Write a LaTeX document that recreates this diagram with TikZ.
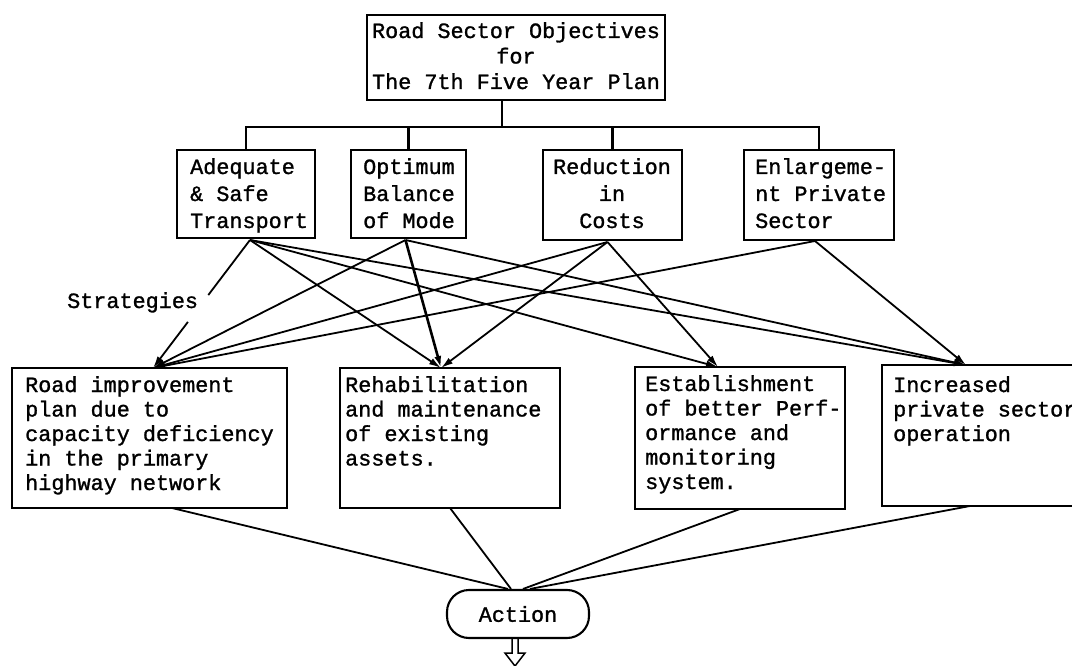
\documentclass[tikz,border=0pt]{standalone}
\usepackage{fontspec}
\newfontfamily\tw[FakeBold=1.2]{Liberation Mono}
\usetikzlibrary{calc,arrows.meta}
\begin{document}
\begin{tikzpicture}[x=1pt,y=-1pt,
 box/.style={draw, line width=2.1pt, inner sep=0pt, outer sep=0pt, anchor=north west},
 txt/.style={inner sep=0pt, anchor=base west, font=\tw\fontsize{21.8}{24.5}\selectfont},
 txtB/.style={inner sep=0pt, anchor=base west, font=\tw\fontsize{21.8}{27}\selectfont},
 link/.style={line width=1.8pt},
 arr/.style={line width=1.8pt, -{Latex[length=12pt,width=7pt]}},
]
\useasboundingbox (0,0) rectangle (1072,666);
\clip (0,0) rectangle (1072,666);
\fill[white] (0,0) rectangle (1072,666);

% boxes
\node[box, minimum width=298pt, minimum height=85pt] (top) at (367,15) {};
\node[box, minimum width=138pt, minimum height=88pt] (adq) at (177,150) {};
\node[box, minimum width=115pt, minimum height=88pt] (opt) at (351,150) {};
\node[box, minimum width=139pt, minimum height=90pt] (red) at (543,150) {};
\node[box, minimum width=150pt, minimum height=90pt] (enl) at (744,150) {};
\node[box, minimum width=275pt, minimum height=140pt] (b1) at (12,368) {};
\node[box, minimum width=220pt, minimum height=140pt] (b2) at (340,368) {};
\node[box, minimum width=210pt, minimum height=142pt] (b3) at (635,367) {};
\node[box, minimum width=240pt, minimum height=141pt] (b4) at (882,365) {};
\node[draw, line width=2.1pt, rounded corners=22pt, minimum width=142pt, minimum height=48pt,
      inner sep=0pt, font=\tw\fontsize{21.8}{24.5}\selectfont] (act) at (518,614) {Action};

% texts
\node[inner sep=0pt, anchor=base, font=\tw\fontsize{21.8}{25.5}\selectfont] (ttop) at (516,38)
  {\begin{tabular}[t]{@{}c@{}}Road Sector Objectives\\for\\The 7th Five Year Plan\end{tabular}};
\node[txtB] (tadq) at (190,174) {\begin{tabular}[t]{@{}l@{}}Adequate\\\& Safe\\Transport\end{tabular}};
\node[txtB] (topt) at (363,174) {\begin{tabular}[t]{@{}l@{}}Optimum\\Balance\\of Mode\end{tabular}};
\node[txtB, anchor=base] (tred) at (612,174) {\begin{tabular}[t]{@{}c@{}}Reduction\\in\\Costs\end{tabular}};
\node[txtB] (tenl) at (755,174) {\begin{tabular}[t]{@{}l@{}}Enlargeme-\\nt Private\\Sector\end{tabular}};
\node[txt] (tb1) at (25,392) {\begin{tabular}[t]{@{}l@{}}Road improvement\\plan due to\\capacity deficiency\\in the primary\\highway network\end{tabular}};
\node[txt] (tb2) at (345,392) {\begin{tabular}[t]{@{}l@{}}Rehabilitation\\and maintenance\\of existing\\assets.\end{tabular}};
\node[txt] (tb3) at (645,391) {\begin{tabular}[t]{@{}l@{}}Establishment\\of better Perf-\\ormance and\\monitoring\\system.\end{tabular}};
\node[txt] (tb4) at (893,392) {\begin{tabular}[t]{@{}l@{}}Increased\\private sector\\operation\end{tabular}};
\node[txt] (strat) at (67,308) {Strategies};

% tree from top box
\coordinate (s0) at ($(top.south)+(-14,0)$);
\coordinate (bus) at ($(s0)+(0,27)$);
\draw[link, line width=2.2pt] (s0) -- (bus);
\draw[link] (adq.north) -- (adq.north |- bus) -- (enl.north |- bus) -- (enl.north);
\draw[link, line width=2.2pt] (opt.north) -- (opt.north |- bus);
\draw[link, line width=2.2pt] (red.north) -- (red.north |- bus);

% sources and targets
\coordinate (sA) at ($(adq.south)+(4,2)$);
\coordinate (sO) at ($(opt.south)+(-3,2)$);
\coordinate (sR) at ($(red.south)+(-5,2)$);
\coordinate (sE) at ($(enl.south)+(-4,1)$);
\coordinate (t1) at ($(b1.north)+(3.5,0)$);
\coordinate (t2) at ($(b2.north)+(-9,0)$);
\coordinate (t3) at ($(b3.north)+(-22,0)$);
\coordinate (t4) at ($(b4.north west)+(84,0)$);

% Adequate
\draw[link] (sA) -- ($(sA)!0.43!(t1)$);
\draw[arr] ($(sA)!0.64!(t1)$) -- (t1);
\draw[arr] (sA) -- (t2);
\draw[arr] (sA) -- (t3);
\draw[arr] (sA) -- (t4);
% Optimum
\draw[arr] (sO) -- (t1);
\draw[arr, line width=2.6pt] (sO) -- (t2);
\draw[arr] (sO) -- (t4);
% Reduction
\draw[arr] (sR) -- (t1);
\draw[arr] (sR) -- (t2);
\draw[arr] (sR) -- (t3);
% Enlargement
\draw[arr] (sE) -- (t1);
\draw[arr] (sE) -- (t4);

% to action
\draw[link] ($(b1.south west)+(160,0)$) -- ($(act.north)+(-10,0)$);
\draw[link] (b2.south) -- ($(act.north)+(-7,0)$);
\draw[link] (b3.south) -- ($(act.north)+(5,0)$);
\draw[link] ($(b4.south west)+(88,0)$) -- ($(act.north)+(12,0)$);

% hollow arrow
\draw[line width=1.5pt] ($(act.south)+(-6,0)$) -- ($(act.south)+(-6,14)$) -- ($(act.south)+(-13,14)$)
  -- ($(act.south)+(-3,27)$) -- ($(act.south)+(7,14)$) -- ($(act.south)+(0,14)$) -- (act.south);
\end{tikzpicture}
\end{document}
